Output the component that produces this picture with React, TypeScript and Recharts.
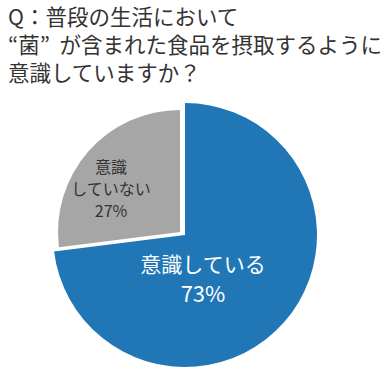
import { PieChart, Pie, Cell } from 'recharts';

const categories = ['意識している', '意識していない'];
const values = [73, 27];
const labelLines = [['意識している', '73%'], ['意識', 'していない', '27%']];
const titleLines = ['Q：普段の生活において', '“菌”  が含まれた食品を摂取するように', '意識していますか？'];

const BLUE = '#2177B6';
const GRAY = '#A6A6A6';
const FONT = '"Noto Sans CJK JP", "Noto Sans", sans-serif';

const data = categories.map((name, i) => ({ name, value: values[i] }));

function BlueLabel(props: any) {
  if (props.index !== 0) return null;
  const { cx, cy } = props;
  const x = cx + 18;
  return (
    <text x={x} y={cy + 37} textAnchor="middle" fill="#fff" fontSize={21} fontFamily={FONT}>
      {labelLines[0].map((t, i) => (
        <tspan key={i} x={x} dy={i === 0 ? 0 : 30} fontSize={i === 0 ? 21 : 22}>{t}</tspan>
      ))}
    </text>
  );
}

function GrayLabel(props: any) {
  if (props.index !== 1) return null;
  const { cx, cy } = props;
  const x = cx - 69;
  const y = cy - 59;
  return (
    <text x={x} y={y} textAnchor="middle" fill="#333" fontSize={16} fontFamily={FONT}>
      {labelLines[1].map((t, i) => (
        <tspan key={i} x={x} dy={i === 0 ? 0 : 22}>{t}</tspan>
      ))}
    </text>
  );
}

export default function App() {
  return (
    <div style={{ position: 'absolute', left: 0, top: 0, width: 384, height: 371, background: '#fff' }}>
      <div style={{ position: 'absolute', left: 8, top: 2, fontFamily: FONT, fontSize: 21.5, lineHeight: '28px', color: '#333', whiteSpace: 'pre' }}>
        {titleLines.map((t, i) => (
          <div key={i}>{t}</div>
        ))}
      </div>
      <div style={{ position: 'absolute', left: 0, top: 0 }}>
        <PieChart width={384} height={371}>
          <Pie
            data={data}
            dataKey="value"
            cx={180}
            cy={230}
            outerRadius={132}
            startAngle={90}
            endAngle={-270}
            stroke="none"
            label={BlueLabel}
            labelLine={false}
            isAnimationActive={false}
          >
            {data.map((d, i) => (
              <Cell key={d.name} fill={i === 0 ? BLUE : 'transparent'} />
            ))}
          </Pie>
          <Pie
            data={data}
            dataKey="value"
            cx={175}
            cy={227}
            outerRadius={122}
            startAngle={90}
            endAngle={-270}
            stroke="none"
            label={GrayLabel}
            labelLine={false}
            isAnimationActive={false}
          >
            {data.map((d, i) => (
              <Cell key={d.name} fill={i === 1 ? GRAY : 'transparent'} />
            ))}
          </Pie>
        </PieChart>
      </div>
    </div>
  );
}
